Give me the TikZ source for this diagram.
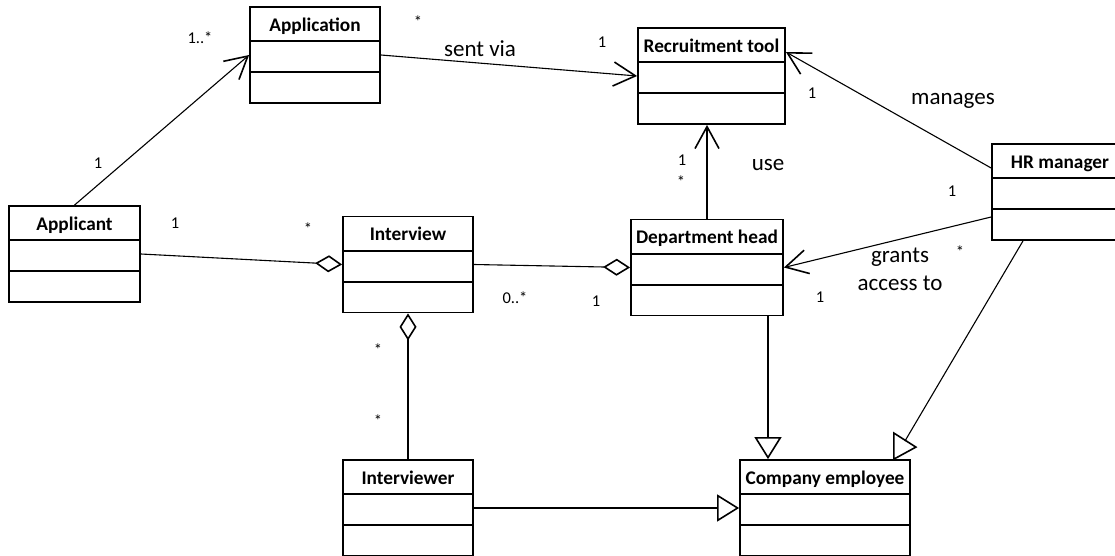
\documentclass[tikz,border=0pt]{standalone}
\usepackage{fontspec}
\setmainfont{Carlito}
\usetikzlibrary{arrows.meta,calc,positioning}

\tikzset{
  cls/.style={draw,line width=1.8pt,minimum height=96pt,inner sep=0pt},
  clsname/.style={anchor=base,font=\fontsize{19.3}{23}\selectfont\bfseries},
  conn/.style={line width=1.1pt},
  assoc/.style={conn,-{Straight Barb[length=22pt,width=24pt,line width=1.6pt]}},
  aggr/.style={conn,-{Diamond[open,length=27pt,width=17pt,line width=1.6pt]}},
  gener/.style={conn,-{Triangle[open,length=22pt,width=27pt,line width=1.6pt]}},
  mult/.style={font=\fontsize{16.5}{20}\selectfont},
  rolelabel/.style={font=\fontsize{23}{28}\selectfont,align=center},
}

\begin{document}
\begin{tikzpicture}[x=1pt,y=-1pt]
\useasboundingbox (0,0) rectangle (1115,556);
% classes
\foreach \id/\cx/\cy/\w/\name in {applicant/74.5/254/131/Applicant,
    application/315/55/130/Application, interview/408/264.5/130/Interview,
    tool/711.5/76/147/Recruitment tool, depthead/707/267.5/152/Department head,
    hrman/1060/192/136/HR manager, interviewer/408/508/130/Interviewer,
    employee/825/508/170/Company employee}{
  \node[cls,minimum width=\w pt] (\id) at (\cx,\cy) {};
  \node[clsname] at ([yshift=-25pt]\id.north) {\name};
  \draw[line width=1.8pt] ([yshift=-35pt]\id.north west) -- ([yshift=-35pt]\id.north east)
                          ([yshift=-66pt]\id.north west) -- ([yshift=-66pt]\id.north east);
}

% associations
\draw[assoc] (applicant.north) -- (application.west);
\draw[assoc] (application.east) -- (tool.west);
\draw[assoc] ([yshift=24pt]hrman.west) -- ([yshift=24pt]tool.east);
\draw[assoc] ([yshift=-25pt]hrman.west) -- (depthead.east);
\draw[assoc] (depthead.north) -- (depthead.north |- tool.south);

% aggregations
\draw[aggr] (applicant.east) -- (interview.west);
\draw[aggr] (interview.east) -- (depthead.west);
\draw[aggr] (interviewer.north) -- (interview.south);

% generalizations
\draw[gener] (interviewer.east) -- (employee.west);
\draw[gener] ([xshift=61pt]depthead.south) -- ([xshift=61pt]depthead.south |- employee.north);
\coordinate (hrtip) at ([shift={(-6pt,18pt)}]employee.north east);
\draw[conn] ([xshift=-37pt]hrman.south) -- (hrtip);
\draw[line width=1.6pt] ([shift={(-17pt,0pt)}]employee.north east) -- ++(0pt,26pt) -- ++(22pt,-14pt) -- cycle;

% multiplicities
\node[mult] at (200,38) {1..*};
\node[mult] at (98,163) {1};
\node[mult] at (418,22) {*};
\node[mult] at (602,42) {1};
\node[mult] at (812,93) {1};
\node[mult] at (682,160) {1};
\node[mult] at (681,182) {*};
\node[mult] at (175,223) {1};
\node[mult] at (308,229) {*};
\node[mult] at (515,298) {0..*};
\node[mult] at (596,301) {1};
\node[mult] at (952,191) {1};
\node[mult] at (960,252) {*};
\node[mult] at (820,297) {1};
\node[mult] at (378,350) {*};
\node[mult] at (378,421) {*};

% role labels
\node[rolelabel] at (480,49) {sent via};
\node[rolelabel] at (953,101) {manages};
\node[rolelabel] at (768,165) {use};
\node[rolelabel] at (900,269) {grants\\access to};
\end{tikzpicture}
\end{document}
